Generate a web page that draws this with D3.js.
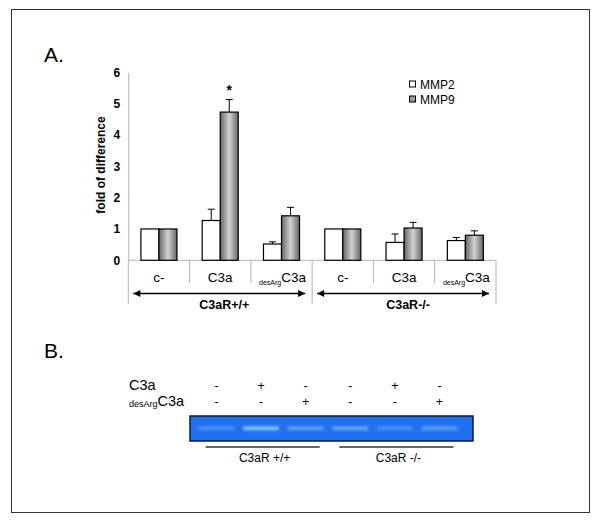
<!DOCTYPE html>
<html><head><meta charset="utf-8">
<script src="https://cdn.jsdelivr.net/npm/d3@7"></script>
<style>html,body{margin:0;padding:0;background:#fff;} svg{display:block;font-family:"Liberation Sans",Arial,sans-serif;}</style>
</head><body>
<svg id="c" width="600" height="522"></svg>
<script>
// ---- data ----
const categories = ["c-", "C3a", "desArgC3a", "c- ", "C3a ", "desArgC3a "];
const groups = ["C3aR+/+", "C3aR-/-"];
const series = ["MMP2", "MMP9"];
const mmp2 = [1.0, 1.27, 0.52, 1.0, 0.57, 0.63];
const mmp2Err = [0, 0.36, 0.07, 0, 0.27, 0.10];
const mmp9 = [1.0, 4.73, 1.42, 1.0, 1.03, 0.80];
const mmp9Err = [0, 0.40, 0.27, 0, 0.18, 0.14];
const significant = [false, true, false, false, false, false];
const yTicks = [0, 1, 2, 3, 4, 5, 6];
// zymography panel
const lanes = ["L1", "L2", "L3", "L4", "L5", "L6"];
const rowC3a = ["-", "+", "-", "-", "+", "-"];
const rowDesArg = ["-", "-", "+", "-", "-", "+"];
const bandIntensity = [0.35, 0.85, 0.5, 0.55, 0.35, 0.45];
const laneGroups = ["C3aR +/+", "C3aR -/-"];

const svg = d3.select("#c");
const defs = svg.append("defs");
const g9 = defs.append("linearGradient").attr("id", "g9").attr("x1", "0%").attr("x2", "100%");
g9.append("stop").attr("offset", "0%").attr("stop-color", "#666");
g9.append("stop").attr("offset", "50%").attr("stop-color", "#d2d2d2");
g9.append("stop").attr("offset", "100%").attr("stop-color", "#666");
defs.append("filter").attr("id", "blur").attr("x", "-20%").attr("y", "-100%").attr("width", "140%").attr("height", "300%")
  .append("feGaussianBlur").attr("stdDeviation", 1.4);
const mk = defs.append("marker").attr("id", "ah").attr("viewBox", "0 0 10 10").attr("refX", 10).attr("refY", 5)
  .attr("markerWidth", 9).attr("markerHeight", 7).attr("markerUnits", "userSpaceOnUse").attr("orient", "auto-start-reverse");
mk.append("path").attr("d", "M0,0L10,5L0,10Z").attr("fill", "#000");

// border
svg.append("rect").attr("x", 11.5).attr("y", 9.5).attr("width", 578).attr("height", 503)
  .attr("fill", "none").attr("stroke", "#333").attr("stroke-width", 1);

// panel letters
svg.append("text").attr("x", 44).attr("y", 62).attr("font-size", 21).text("A.");
svg.append("text").attr("x", 44).attr("y", 358).attr("font-size", 21).text("B.");

// ---- panel A ----
const y = d3.scaleLinear().domain([0, 6]).range([260.3, 72.3]);
const x0 = d3.scaleBand().domain(categories).range([128.3, 496]).paddingInner(0).paddingOuter(0);
const x1 = d3.scaleBand().domain(series).range([0, x0.bandwidth()]).paddingInner(0).paddingOuter(0.7);
const xg = d3.scaleBand().domain(groups).range([128.3, 496]);
const axisColor = "#b4b4b4";

const yAxis = svg.append("g").attr("transform", "translate(128.3,0)")
  .call(d3.axisLeft(y).tickValues(yTicks).tickSize(0).tickPadding(8).tickFormat(d3.format("d")));
yAxis.select(".domain").attr("stroke", axisColor);
yAxis.selectAll("text").attr("font-size", 12).attr("font-weight", "bold").attr("font-family", "Liberation Sans, Arial").attr("fill", "#000");

svg.append("text").attr("transform", "translate(105,165) rotate(-90)").attr("text-anchor", "middle")
  .attr("font-size", 12).attr("font-weight", "bold").text("fold of difference");

// x axis baseline
svg.append("line").attr("x1", 128.3).attr("x2", 496).attr("y1", y(0)).attr("y2", y(0)).attr("stroke", axisColor);
// category separators
const bounds = categories.map(c => x0(c)).concat([x0.range()[1]]);
bounds.forEach((b, i) => {
  const outer = (i % 3 === 0);
  svg.append("line").attr("x1", b).attr("x2", b).attr("y1", y(0)).attr("y2", outer ? 304 : 283)
    .attr("stroke", axisColor);
});

// bars
const bars = svg.append("g");
categories.forEach((c, i) => {
  const vals = [mmp2[i], mmp9[i]];
  const errs = [mmp2Err[i], mmp9Err[i]];
  series.forEach((s, j) => {
    const bx = x0(c) + x1(s);
    const bw = x1.bandwidth();
    bars.append("rect").attr("x", bx).attr("y", y(vals[j])).attr("width", bw).attr("height", y(0) - y(vals[j]))
      .attr("fill", j === 0 ? "#fff" : "url(#g9)").attr("stroke", "#000").attr("stroke-width", 1.2);
    if (errs[j] > 0) {
      const cx = bx + bw / 2;
      bars.append("line").attr("x1", cx).attr("x2", cx).attr("y1", y(vals[j])).attr("y2", y(vals[j] + errs[j])).attr("stroke", "#000").attr("stroke-width", 1);
      bars.append("line").attr("x1", cx - 3.5).attr("x2", cx + 3.5).attr("y1", y(vals[j] + errs[j])).attr("y2", y(vals[j] + errs[j])).attr("stroke", "#000").attr("stroke-width", 1);
    }
  });
  if (significant[i]) {
    const cx = x0(c) + x1("MMP9") + x1.bandwidth() / 2;
    svg.append("text").attr("x", cx).attr("y", y(mmp9[i] + mmp9Err[i]) - 5).attr("text-anchor", "middle")
      .attr("font-size", 14).attr("font-weight", "bold").text("*");
  }
  // category label
  const lx = x0(c) + x0.bandwidth() / 2;
  const t = svg.append("text").attr("x", lx).attr("y", 282).attr("text-anchor", "middle").attr("font-size", 13.5);
  const name = c.trim();
  if (name.startsWith("desArg")) {
    t.attr("x", lx + 1);
    t.append("tspan").attr("font-size", 7).attr("dy", 3).text("desArg");
    t.append("tspan").attr("dy", -3).text("C3a");
  } else {
    t.text(name);
  }
});

// group arrows and labels
groups.forEach((gname, i) => {
  const gx = xg(gname), gw = xg.bandwidth();
  svg.append("line").attr("x1", gx + 5).attr("x2", gx + gw - 7).attr("y1", 293.5).attr("y2", 293.5)
    .attr("stroke", "#000").attr("stroke-width", 1.3)
    .attr("marker-start", "url(#ah)").attr("marker-end", "url(#ah)");
  svg.append("text").attr("x", gx + gw / 2 + 4).attr("y", 308.5).attr("text-anchor", "middle")
    .attr("font-size", 12.5).attr("font-weight", "bold").text(gname);
});

// legend
series.forEach((s, j) => {
  const ly = 84.5 + j * 15;
  svg.append("rect").attr("x", 409.5).attr("y", ly - 3.5).attr("width", 6).attr("height", 6)
    .attr("fill", j === 0 ? "#fff" : "#999").attr("stroke", "#000").attr("stroke-width", 1);
  svg.append("text").attr("x", 420).attr("y", ly + 4.5).attr("font-size", 12).text(s);
});

// ---- panel B ----
const lx = d3.scalePoint().domain(lanes).range([216.5, 439.5]);
svg.append("text").attr("x", 129).attr("y", 390).attr("font-size", 14.5).text("C3a");
const dt = svg.append("text").attr("x", 129).attr("y", 407).attr("font-size", 14.5);
dt.append("tspan").attr("font-size", 9).attr("dy", 0).text("desArg");
dt.append("tspan").attr("dy", -1).text("C3a");

lanes.forEach((l, i) => {
  svg.append("text").attr("x", lx(l)).attr("y", 389.5).attr("text-anchor", "middle").attr("font-size", 12.5).text(rowC3a[i]);
  svg.append("text").attr("x", lx(l)).attr("y", 406).attr("text-anchor", "middle").attr("font-size", 12.5).text(rowDesArg[i]);
});

// gel
svg.append("rect").attr("x", 190).attr("y", 416).attr("width", 283).attr("height", 25)
  .attr("fill", "#2170f0").attr("stroke", "#0b1740").attr("stroke-width", 1.5);
const bandG = svg.append("g").attr("filter", "url(#blur)");
lanes.forEach((l, i) => {
  const w = 36;
  bandG.append("rect").attr("x", lx(l) - w / 2).attr("y", 426.5).attr("width", w).attr("height", 3.5)
    .attr("rx", 1.5).attr("fill", "#9fe6ff").attr("opacity", bandIntensity[i]);
});

// lane-group underlines
const laneSets = [lanes.slice(0, 3), lanes.slice(3)];
laneGroups.forEach((gname, i) => {
  const a = lx(laneSets[i][0]) - 11, b = lx(laneSets[i][2]) + 14;
  svg.append("line").attr("x1", a).attr("x2", b).attr("y1", 447).attr("y2", 447).attr("stroke", "#333").attr("stroke-width", 1.3);
  svg.append("text").attr("x", (a + b) / 2 + 2).attr("y", 462).attr("text-anchor", "middle").attr("font-size", 12).text(gname);
});
</script>
</body></html>
